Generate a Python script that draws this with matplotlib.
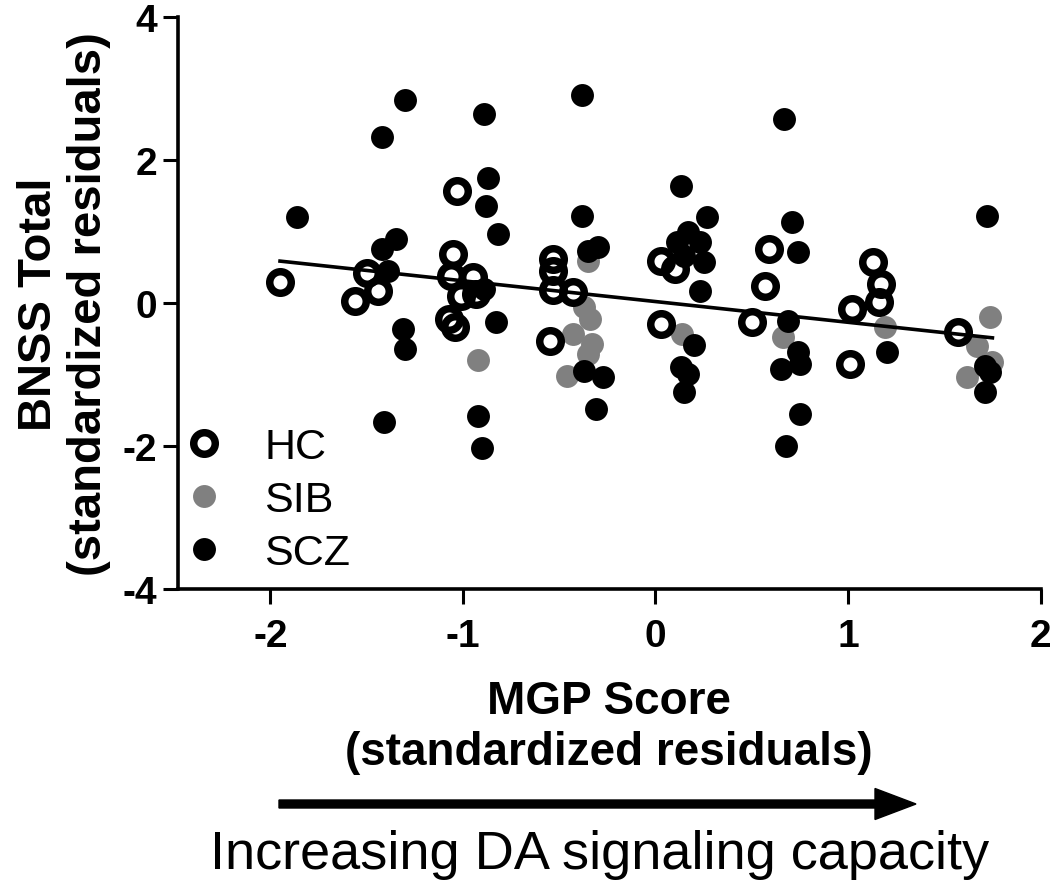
import numpy as np
import matplotlib
matplotlib.use("Agg")
import matplotlib.pyplot as plt
from matplotlib.lines import Line2D
from matplotlib.patches import FancyArrow

plt.rcParams["font.family"] = ["Liberation Sans", "DejaVu Sans"]
plt.rcParams["axes.unicode_minus"] = False

# MGP score (x) vs BNSS total (y), standardized residuals
hc_x = [-1.95, -1.56, -1.44, -1.50, -1.03, -1.05, -1.06, -0.95, -1.01, -0.93,
        -1.07, -1.04, -0.53, -0.53, -0.53, -0.43, -0.55, 0.03, 0.10, 0.03,
        0.59, 0.57, 0.50, 1.13, 1.17, 1.16, 1.02, 1.01, 1.57]
hc_y = [0.29, 0.03, 0.17, 0.42, 1.57, 0.68, 0.38, 0.36, 0.10, 0.12,
        -0.22, -0.33, 0.62, 0.45, 0.18, 0.15, -0.53, 0.58, 0.48, -0.29,
        0.76, 0.24, -0.27, 0.57, 0.27, 0.02, -0.08, -0.86, -0.41]

sib_x = [-0.92, -0.37, -0.34, -0.43, -0.33, -0.35, -0.46, -0.35, 0.14, 0.66,
         1.19, 1.74, 1.67, 1.62, 1.75]
sib_y = [-0.80, -0.06, -0.22, -0.43, -0.57, -0.71, -1.02, 0.59, -0.43, -0.48,
         -0.34, -0.19, -0.60, -1.04, -0.83]

scz_x = [-1.86, -1.30, -1.42, -1.35, -1.42, -1.39, -1.31, -1.30, -1.41, -0.89,
         -0.38, -0.87, -0.88, -0.82, -0.38, -0.35, -0.30, -0.89, -0.83, -0.92,
         -0.90, -0.37, -0.27, -0.31, 0.67, 0.13, 0.27, 0.17, 0.11, 0.23,
         0.25, 0.15, 0.71, 0.74, 0.23, 0.20, 0.13, 0.17, 0.15, 0.69,
         0.74, 0.75, 0.65, 0.75, 0.68, 1.72, 1.20, 1.71, 1.74, 1.71]
scz_y = [1.20, 2.84, 2.32, 0.90, 0.75, 0.45, -0.36, -0.64, -1.67, 2.64,
         2.91, 1.75, 1.36, 0.97, 1.22, 0.73, 0.78, 0.20, -0.27, -1.58,
         -2.03, -0.95, -1.04, -1.48, 2.57, 1.64, 1.20, 0.99, 0.85, 0.85,
         0.57, 0.66, 1.13, 0.71, 0.17, -0.59, -0.90, -1.00, -1.24, -0.25,
         -0.69, -0.85, -0.92, -1.55, -2.00, 1.22, -0.69, -0.88, -0.97, -1.24]

# regression line shown in the figure
fit_slope = -0.29
fit_intercept = 0.02

x_ticks = [-2, -1, 0, 1, 2]
y_ticks = [-4, -2, 0, 2, 4]

fig = plt.figure(figsize=(10.5, 8.87), dpi=100)
ax = fig.add_axes([0.1695, 0.3348, 0.8215, 0.645])

dot = 16.5
ax.plot(sib_x, sib_y, "o", ms=dot, color="#808080", mec="none", zorder=2)
ax.plot(scz_x, scz_y, "o", ms=dot, color="black", mec="none", zorder=3)
ax.plot(hc_x, hc_y, "o", ms=15.5, mfc="none", mec="black", mew=5.4, zorder=4)

all_x = np.array(hc_x + sib_x + scz_x)
xs = np.array([all_x.min(), all_x.max()])
ax.plot(xs, fit_intercept + fit_slope * xs, color="black", lw=2.6, zorder=5)

ax.set_xlim(-2.48, 2)
ax.set_ylim(-4, 4)
ax.set_xticks(x_ticks)
ax.set_yticks(y_ticks)
ax.set_xticklabels([str(t) for t in x_ticks])
ax.set_yticklabels([str(t) for t in y_ticks])
for s in ["top", "right"]:
    ax.spines[s].set_visible(False)
for s in ["left", "bottom"]:
    ax.spines[s].set_linewidth(2.6)
ax.tick_params(direction="out", length=11, width=2.2, labelsize=28)
ax.tick_params(axis="x", pad=10)
ax.tick_params(axis="y", pad=4)
for lab in ax.get_xticklabels() + ax.get_yticklabels():
    lab.set_fontweight("bold")

ax.set_xlabel("MGP Score\n(standardized residuals)", fontsize=33,
              fontweight="bold", labelpad=18, linespacing=1.2)
ax.set_ylabel("BNSS Total\n(standardized residuals)", fontsize=34,
              fontweight="bold", labelpad=8, linespacing=1.2)

handles = [
    Line2D([], [], ls="none", marker="o", ms=15.5, mfc="none", mec="black", mew=5.4),
    Line2D([], [], ls="none", marker="o", ms=dot, color="#808080", mec="none"),
    Line2D([], [], ls="none", marker="o", ms=dot, color="black", mec="none"),
]
ax.legend(handles, ["HC", "SIB", "SCZ"], loc="upper left",
          bbox_to_anchor=(-0.02, 0.32), frameon=False, fontsize=31,
          handlelength=1.0, handletextpad=0.9, labelspacing=0.3, borderpad=0)

# arrow and caption under the x axis
arrow = FancyArrow(2.79, 0.82, 6.37, 0, width=0.08, head_width=0.31,
                   head_length=0.41, length_includes_head=True,
                   color="black", transform=fig.dpi_scale_trans)
fig.patches.append(arrow)
fig.text(600 / 1050, 1 - 855 / 887, "Increasing DA signaling capacity",
         fontsize=39, ha="center", va="center")

fig.savefig("out.png", dpi=100)
